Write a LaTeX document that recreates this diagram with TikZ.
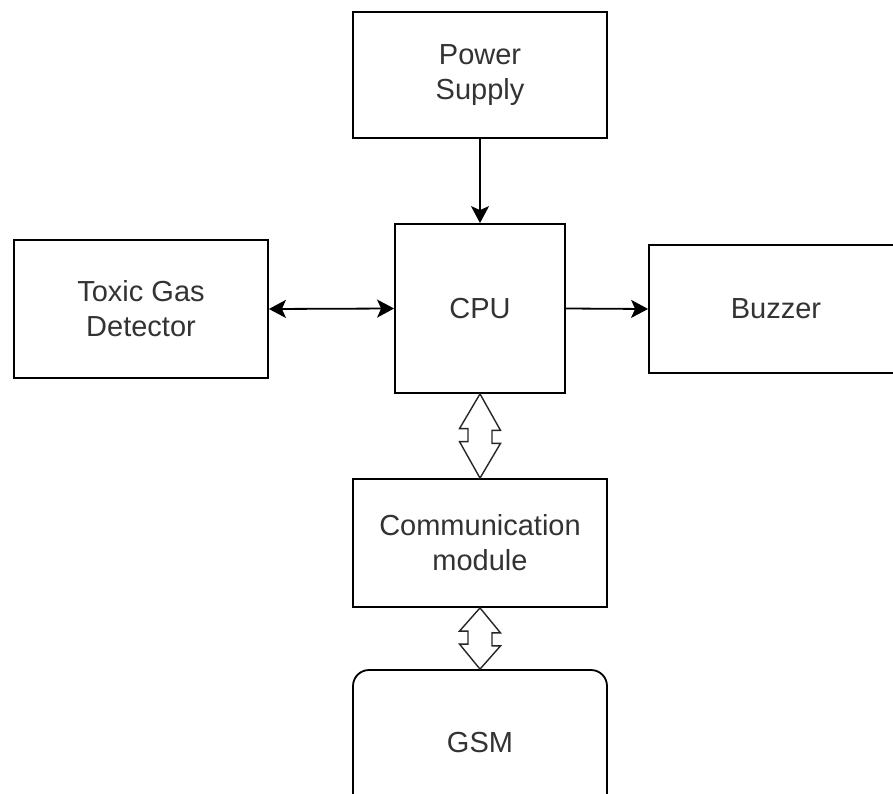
\documentclass[tikz,border=0pt]{standalone}
\usepackage{fontspec}
\setmainfont{Liberation Sans}
\usetikzlibrary{arrows.meta}
\definecolor{txt}{HTML}{333333}
\begin{document}
\begin{tikzpicture}[x=1pt,y=-1pt,
  blockbox/.style={draw=black,line width=1.8pt,fill=white,inner sep=0pt,align=center,
    text=txt,font=\fontsize{29}{35}\selectfont},
  arr/.style={line width=1.8pt,-{Stealth[length=17pt,width=18pt,inset=4pt]}},
  arrtwo/.style={line width=1.8pt,{Stealth[length=17pt,width=18pt,inset=4pt]}-{Stealth[length=17pt,width=18pt,inset=4pt]}},
  dblarrow/.style={draw=black!85,line width=1.4pt,fill=white,line join=miter}]
\useasboundingbox (0,0) rectangle (893,794);
\node[blockbox,minimum width=254pt,minimum height=126pt] (ps) at (480,75) {Power\\Supply};
\node[blockbox,minimum width=170pt,minimum height=169pt] (cpu) at (480,308.5) {CPU};
\node[blockbox,minimum width=254pt,minimum height=138pt] (tgd) at (141,309) {Toxic Gas\\Detector};
\node[blockbox,minimum width=254pt,minimum height=128pt] (buz) at (776,309) {Buzzer};
\node[blockbox,minimum width=254pt,minimum height=128pt] (com) at (480,543) {Communication\\module};
\node[blockbox,rounded corners=16pt,minimum width=254pt,minimum height=146pt] (gsm) at (480,743) {GSM};
\draw[arr] (ps.south) -- (cpu.north);
\draw[arrtwo] (tgd.east) -- (cpu.west);
\draw[arr] (cpu.east) -- (buz.west);
\draw[dblarrow] (cpu.south) -- ++(20.5,36.5) -- ++(-8.5,0) -- ++(0,13) -- ++(8.5,0)
  -- (com.north) -- ++(-20.5,-36.5) -- ++(8.5,0) -- ++(0,-13) -- ++(-8.5,0) -- cycle;
\draw[dblarrow] (com.south) -- ++(20.5,25) -- ++(-8.5,0) -- ++(0,13) -- ++(8.5,0)
  -- (gsm.north) -- ++(-20.5,-25) -- ++(8.5,0) -- ++(0,-13) -- ++(-8.5,0) -- cycle;
\end{tikzpicture}
\end{document}
